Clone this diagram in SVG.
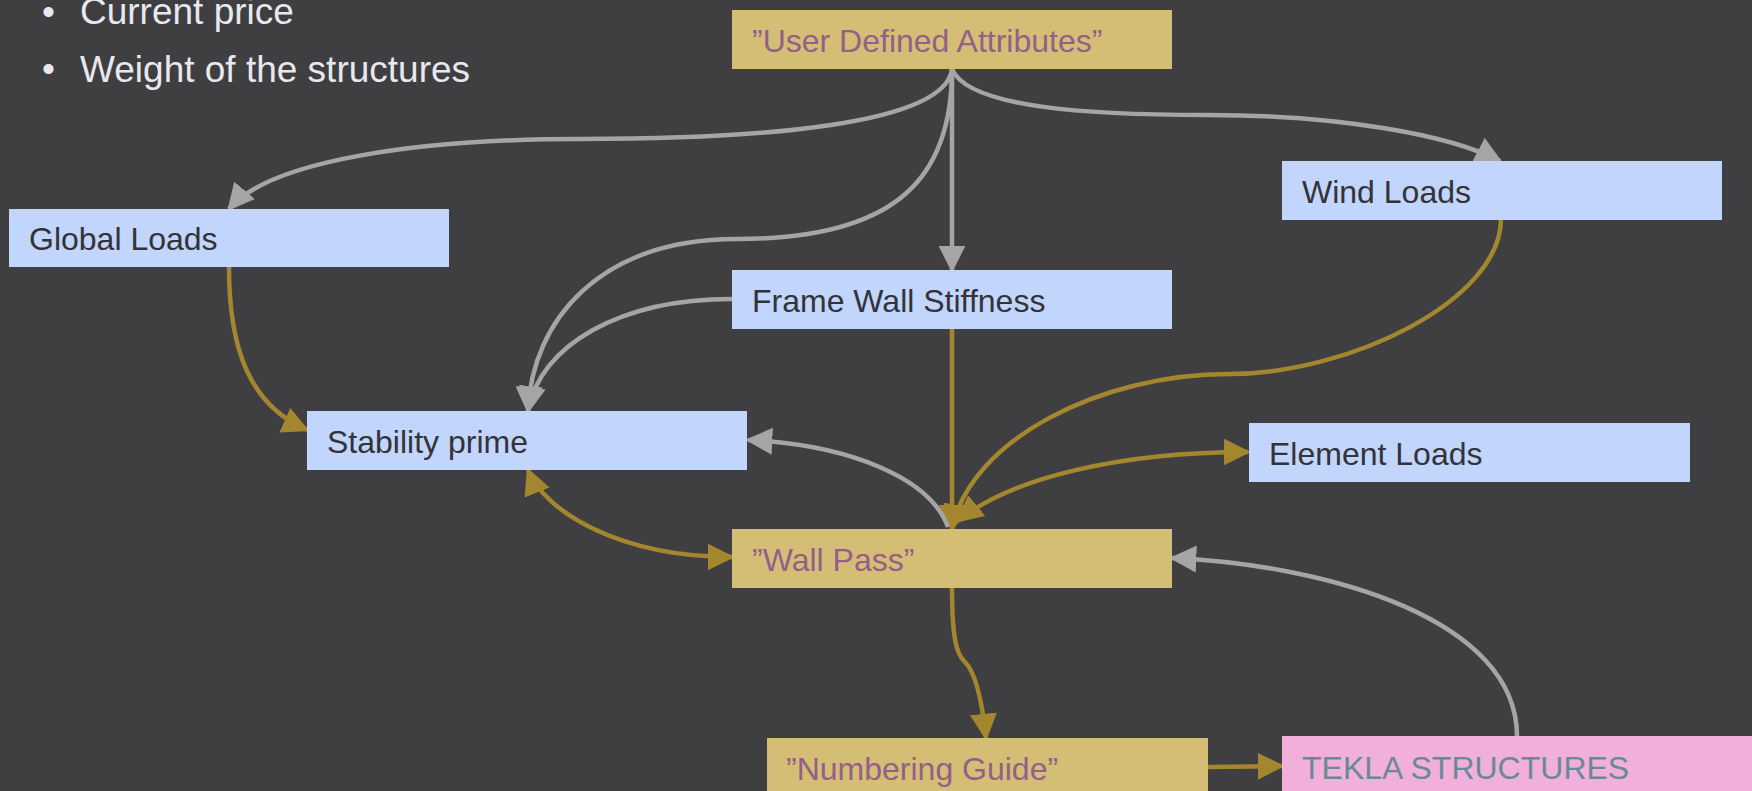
<svg xmlns="http://www.w3.org/2000/svg" width="1752" height="791" viewBox="0 0 1752 791">
<defs>
<style>
.bg{fill:#3f3f42}
.blue{fill:#c1d5fd}
.gold{fill:#d4bd74}
.pink{fill:#f0b0db}
.t{font-family:"Liberation Sans",Arial,sans-serif;font-size:32px}
.tb{fill:#333338}
.tg{fill:#945f88}
.tp{fill:#6b8896}
.bul{font-family:"Liberation Sans",Arial,sans-serif;font-size:37px;fill:#e8e8ee}
.cg{fill:none;stroke:#a5a5a7;stroke-width:4.5}
.co{fill:none;stroke:#a4862e;stroke-width:4.5}
</style>
<marker id="ag" viewBox="0 0 10 10" refX="9" refY="5" markerWidth="27" markerHeight="27" markerUnits="userSpaceOnUse" orient="auto-start-reverse"><path d="M0,0 L10,5 L0,10 z" fill="#a5a5a7"/></marker>
<marker id="ao" viewBox="0 0 10 10" refX="9" refY="5" markerWidth="27" markerHeight="27" markerUnits="userSpaceOnUse" orient="auto-start-reverse"><path d="M0,0 L10,5 L0,10 z" fill="#a4862e"/></marker>
</defs>
<rect class="bg" x="0" y="0" width="1752" height="791"/>
<g id="bullets">
<text class="bul" x="42" y="24" font-size="26">•</text>
<text class="bul" x="80" y="24">Current price</text>
<text class="bul" x="42" y="81" font-size="26">•</text>
<text class="bul" x="80" y="82">Weight of the structures</text>
</g>
<g id="connectors">
<path class="cg" d="M952,69 C945,125 760,139 580,139 C420,139 270,160 229,209" marker-end="url(#ag)"/>
<path class="cg" d="M952,69 C968,108 1090,115 1207,115 C1340,115 1450,135 1500,161" marker-end="url(#ag)"/>
<path class="cg" d="M952,69 L952,270" marker-end="url(#ag)"/>
<path class="cg" d="M952,69 C952,175 900,239 737,239 C600,239 532,320 528,411" marker-end="url(#ag)"/>
<path class="cg" d="M732,299 C620,299 540,345 528,411" marker-end="url(#ag)"/>
<path class="co" d="M229,267 C229,350 250,405 307,430" marker-end="url(#ao)"/>
<path class="co" d="M952,329 L952,529" marker-end="url(#ao)"/>
<path class="co" d="M1501,219 C1501,300 1350,374 1229,374 C1100,374 970,440 952,529" marker-end="url(#ao)"/>
<path class="co" d="M958,521 C1010,478 1120,452 1248,452" marker-start="url(#ao)" marker-end="url(#ao)"/>
<path class="cg" d="M948,527 C930,478 850,445 748,440" marker-end="url(#ag)"/>
<path class="co" d="M528,470 C545,512 620,557 732,557" marker-start="url(#ao)" marker-end="url(#ao)"/>
<path class="co" d="M952,588 C952,640 957,655 965,662 C975,672 982,700 986,738" marker-end="url(#ao)"/>
<path class="co" d="M1208,767 L1282,766" marker-end="url(#ao)"/>
<path class="cg" d="M1517,736 C1517,620 1330,565 1172,558" marker-end="url(#ag)"/>
</g>
<g id="uda"><rect class="gold" x="732" y="10" width="440" height="59"/><text class="t tg" x="752" y="52">”User Defined Attributes”</text></g>
<g id="global"><rect class="blue" x="9" y="209" width="440" height="58"/><text class="t tb" x="29" y="250">Global Loads</text></g>
<g id="wind"><rect class="blue" x="1282" y="161" width="440" height="59"/><text class="t tb" x="1302" y="203">Wind Loads</text></g>
<g id="fws"><rect class="blue" x="732" y="270" width="440" height="59"/><text class="t tb" x="752" y="312">Frame Wall Stiffness</text></g>
<g id="stability"><rect class="blue" x="307" y="411" width="440" height="59"/><text class="t tb" x="327" y="453">Stability prime</text></g>
<g id="element"><rect class="blue" x="1249" y="423" width="441" height="59"/><text class="t tb" x="1269" y="465">Element Loads</text></g>
<g id="wallpass"><rect class="gold" x="732" y="529" width="440" height="59"/><text class="t tg" x="752" y="571">”Wall Pass”</text></g>
<g id="numbering"><rect class="gold" x="767" y="738" width="441" height="59"/><text class="t tg" x="786" y="780">”Numbering Guide”</text></g>
<g id="tekla"><rect class="pink" x="1282" y="736" width="480" height="60"/><text class="t tp" x="1302" y="779">TEKLA STRUCTURES</text></g>
</svg>
